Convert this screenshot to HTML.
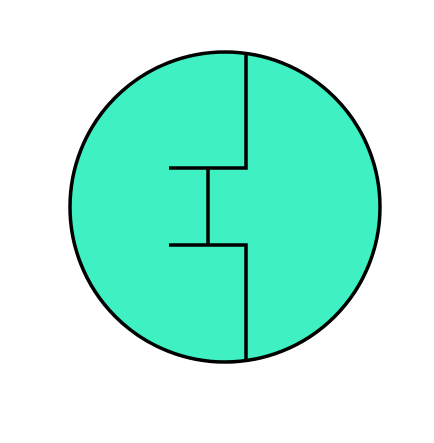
<!DOCTYPE html>
<html><head><meta charset="utf-8"><style>html,body{margin:0;padding:0;background:#fff;}svg{display:block;}</style></head>
<body>
<svg width="434" height="443" viewBox="0 0 434 443">
<circle cx="225" cy="207" r="155" fill="#3FF0C3" stroke="#000" stroke-width="3.5"/>
<polyline points="246,52 246,168 169,168" fill="none" stroke="#000" stroke-width="3.5"/>
<line x1="208" y1="168" x2="208" y2="245" stroke="#000" stroke-width="3.5"/>
<polyline points="169,245 246,245 246,362" fill="none" stroke="#000" stroke-width="3.5"/>
</svg>
</body></html>
